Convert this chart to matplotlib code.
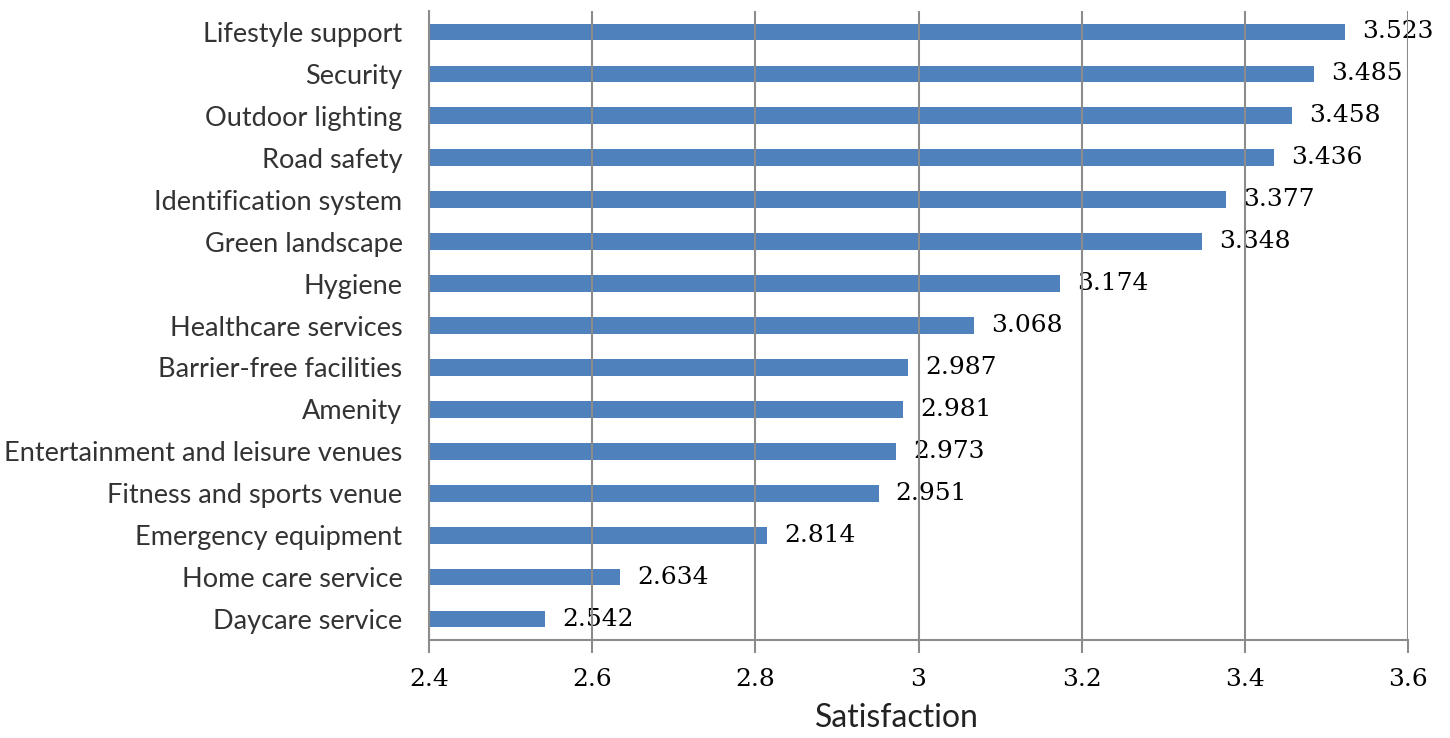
import matplotlib
matplotlib.use("Agg")
import matplotlib.pyplot as plt
import numpy as np

categories = [
    "Lifestyle support",
    "Security",
    "Outdoor lighting",
    "Road safety",
    "Identification system",
    "Green landscape",
    "Hygiene",
    "Healthcare services",
    "Barrier-free facilities",
    "Amenity",
    "Entertainment and leisure venues",
    "Fitness and sports venue",
    "Emergency equipment",
    "Home care service",
    "Daycare service",
]
satisfaction = [
    3.523, 3.485, 3.458, 3.436, 3.377, 3.348, 3.174, 3.068,
    2.987, 2.981, 2.973, 2.951, 2.814, 2.634, 2.542,
]
x_ticks = [2.4, 2.6, 2.8, 3.0, 3.2, 3.4, 3.6]
x_tick_labels = ["2.4", "2.6", "2.8", "3", "3.2", "3.4", "3.6"]

BAR_COLOR = "#4F81BD"
GRID_COLOR = "#8c8c8c"

fig = plt.figure(figsize=(14.5, 7.38), dpi=100)
ax = fig.add_axes([429 / 1450, 1 - 640 / 738, 979 / 1450, 629 / 738])

y = np.arange(len(categories))
base = x_ticks[0]
ax.barh(y, np.array(satisfaction) - base, left=base, height=0.4,
        color=BAR_COLOR, zorder=2)

for yi, v in zip(y, satisfaction):
    ax.text(v + 0.021, yi, f"{v:.3f}", va="center", ha="left",
            family="DejaVu Serif", fontsize=18, color="#000000", zorder=1)

ax.set_xlim(x_ticks[0], x_ticks[-1])
ax.set_ylim(len(categories) - 0.5, -0.5)
ax.set_yticks(y)
ax.set_yticklabels(categories, family="Lato", fontsize=19.5, color="#333333")
ax.tick_params(axis="y", length=0, pad=19)

ax.set_xticks(x_ticks)
ax.set_xticklabels(x_tick_labels, family="DejaVu Serif", fontsize=18, color="#000000")
ax.tick_params(axis="x", length=9, width=1.5, color=GRID_COLOR, pad=11)

ax.xaxis.grid(True, color=GRID_COLOR, linewidth=1.5, zorder=3)
ax.set_axisbelow(False)
for side in ("top", "right"):
    ax.spines[side].set_visible(False)
for side in ("left", "bottom"):
    ax.spines[side].set_color(GRID_COLOR)
    ax.spines[side].set_linewidth(1.5)

ax.set_xlabel("Satisfaction", family="Lato", fontsize=23, color="#222222")
ax.xaxis.set_label_coords(0.478, -0.1)

fig.savefig("out.png", dpi=100)
